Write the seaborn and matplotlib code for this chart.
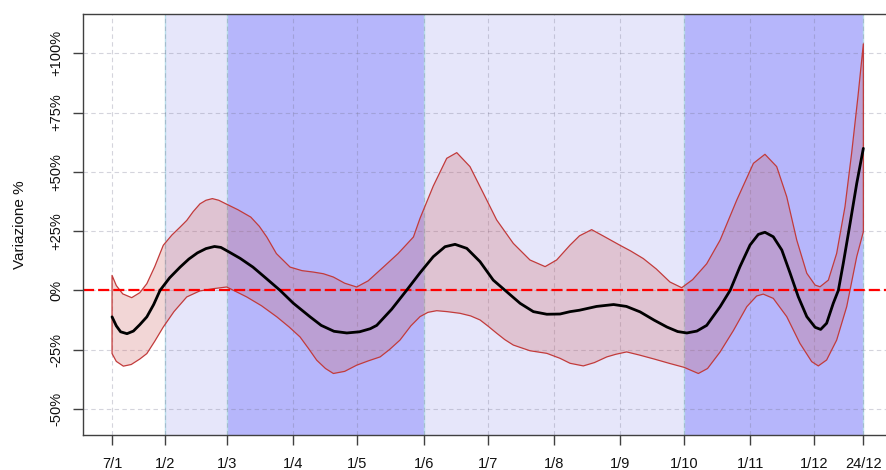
import matplotlib
matplotlib.use("Agg")
import matplotlib.pyplot as plt
import seaborn as sns
import pandas as pd

# Day-of-year axis (leap year)
tick_days = [7, 32, 61, 92, 122, 153, 183, 214, 245, 275, 306, 336, 359]
tick_labels = ["7/1", "1/2", "1/3", "1/4", "1/5", "1/6", "1/7", "1/8", "1/9",
               "1/10", "1/11", "1/12", "24/12"]

y_ticks = [-50, -25, 0, 25, 50, 75, 100]
y_tick_labels = ["-50%", "-25%", "0%", "+25%", "+50%", "+75%", "+100%"]

# Shaded periods: (start day, end day, kind)
period_start = [32, 61, 153, 275]
period_end = [61, 153, 275, 359]
period_kind = ["light", "dark", "light", "dark"]

# Smoothed estimate (%)
mean_days = [7, 9, 11, 14, 17, 20, 23.3, 26.5, 29.5, 34, 38.9, 43, 47, 51, 55, 58, 61,
             67, 73, 79, 85.7, 92, 99.8, 105, 111, 117, 123, 128, 131, 138, 145, 151.3,
             157.5, 163, 167.7, 173.2, 179.4, 185.6, 191.9, 198.2, 204.4, 210.7, 216.9,
             221.6, 226, 234, 242, 248, 254.4, 261, 267, 272, 276.3, 281, 285.6, 291.9,
             296.6, 301.2, 305.9, 309.8, 312.9, 316.8, 320.8, 324.7, 328.5, 332.5,
             336.4, 339, 341.8, 344.9, 347.3, 349.6, 352.8, 355.9, 359]
mean_vals = [-11.2, -15, -17.5, -18.3, -17.2, -14.5, -11.2, -6, 0, 5.3, 9.8, 13.2, 15.8,
             17.6, 18.5, 18.1, 16.6, 13.5, 9.8, 5.2, 0, -5.5, -11.2, -14.8, -17.3, -18,
             -17.5, -16.2, -14.8, -8, 0, 7.4, 14.2, 18.4, 19.4, 17.7, 12.1, 4.3, -0.6,
             -5.5, -9, -10.1, -10, -9, -8.4, -6.8, -6.0, -6.8, -9.1, -12.6, -15.5, -17.4,
             -18, -17.2, -14.8, -6.9, 0, 10, 19.1, 23.6, 24.5, 22.6, 17, 7.2, -2.7,
             -11.1, -15.6, -16.5, -13.9, -5.5, 0, 11.4, 28.3, 45.1, 59.9]

# Upper bound of the interval (%)
upper_days = [7, 9, 12, 16.2, 20, 23.3, 27, 31, 35, 38.9, 42, 45, 48.2, 51, 54, 57, 61,
              66, 72, 76, 79.5, 84, 90.4, 96, 101.3, 106, 110.7, 116, 121.6, 127, 134.1,
              141, 148.2, 151.3, 157.5, 163.8, 168.5, 174.7, 181, 187.2, 195, 202.8,
              209.9, 215.3, 221.6, 226, 231.7, 237, 245, 250, 255.9, 262, 268.4, 273.9,
              279, 285.6, 291.9, 299.7, 307.5, 312.9, 318.4, 323.1, 327.8, 332.5, 336.4,
              338.7, 342.6, 346.5, 350.4, 353.5, 356.5, 359]
upper_vals = [6.3, 2, -1.5, -3.1, -1, 2.8, 10, 19, 23.3, 26.7, 29.5, 33.2, 36.5, 38, 38.7,
              38, 36.2, 34, 30.9, 27, 22.5, 15.5, 9.8, 8.3, 7.7, 7, 5.6, 3, 1.4, 4, 9.8,
              15.5, 22.5, 30.4, 44, 55.7, 58.1, 52.2, 40.9, 29.7, 19.8, 12.8, 10, 12.8,
              19.1, 23, 25.6, 23, 19, 16.6, 13.4, 9, 3.5, 1.1, 4.5, 11.2, 21.2, 38.1,
              53.6, 57.4, 52.2, 39.5, 21.2, 7.2, 2.2, 1.5, 4.3, 15.6, 35.3, 57.8, 82, 104]

# Lower bound of the interval (%)
lower_days = [7, 9, 12.3, 16, 20, 23.3, 27, 31, 36, 42, 48, 54.5, 60.7, 65, 70.1, 77,
              84.2, 90, 95.1, 99, 102.9, 107, 110.7, 116, 121.6, 127, 132.6, 137, 141.9,
              147, 151.3, 155, 159.1, 164, 170, 175, 179.4, 183, 187.2, 191, 195, 202.8,
              210.7, 216.9, 221.6, 227.8, 233, 238.8, 243, 248.1, 254, 261, 268.4, 275,
              281.7, 286, 291.9, 298.1, 304.4, 309, 312.1, 316.8, 323.1, 329.3, 334.8,
              337.9, 341.8, 346.5, 351.2, 355.9, 359]
lower_vals = [-26.7, -30, -32, -31.3, -29, -26.7, -21.5, -15.5, -9, -2.8, -0.3, 0.7, 1.4,
              -0.5, -2.8, -6.5, -11.2, -15.5, -19.7, -24.5, -29.5, -33, -35.1, -34.2,
              -31.6, -29.8, -28.1, -25, -21, -15, -11.1, -9.3, -8.6, -9, -9.7, -10.8,
              -12.5, -15, -18.1, -20.8, -23.1, -25.5, -26.6, -28.7, -30.8, -31.9, -30.5,
              -28.1, -27, -26, -27.3, -29, -30.9, -32.5, -35.1, -33, -26, -17, -6.9,
              -2.4, -1.6, -3.4, -11.1, -22.4, -30.1, -31.9, -29.4, -21, -6.9, 14.2, 24.7]

sns.set_style("white")
plt.rcParams["font.family"] = ["Liberation Sans", "DejaVu Sans"]

fig = plt.figure(figsize=(8.86, 4.70), dpi=100)
ax = fig.add_axes([0.0937, 0.0745, 0.9147, 0.8957])

# Period shading
shade = {"light": "#E6E6FA", "dark": "#B6B6FB"}
for s, e, k in zip(period_start, period_end, period_kind):
    ax.axvspan(s, e, facecolor=shade[k], edgecolor="none", zorder=0.2)
for d in sorted(set(period_start + period_end)):
    ax.axvline(d, color="#B8DCEA", lw=1.0, zorder=0.3)

# Dashed grid at tick positions
grid_kw = dict(color=(0.45, 0.45, 0.55), alpha=0.3, lw=0.8, dashes=(4, 3), zorder=0.5)
for d in tick_days:
    ax.axvline(d, **grid_kw)
for v in y_ticks:
    ax.axhline(v, **grid_kw)

# Interval band
band = pd.DataFrame({"day": upper_days + lower_days[::-1],
                     "val": upper_vals + lower_vals[::-1]})
ax.fill(band["day"], band["val"], facecolor=(205 / 255, 92 / 255, 92 / 255, 0.25),
        edgecolor="#C23B3B", lw=0.9, joinstyle="round", zorder=1)

# Reference line at 0%
ax.axhline(0, color="#FF0000", lw=1.6, dashes=(5, 1.8), zorder=2)

# Smoothed estimate
df_mean = pd.DataFrame({"day": mean_days, "val": mean_vals})
sns.lineplot(data=df_mean, x="day", y="val", color="black", lw=2.0, ax=ax, zorder=3,
             solid_joinstyle="round", solid_capstyle="round")

ax.set_xlim(-6.6, 373.1)
ax.set_ylim(-61.05, 116.6)

ax.set_xticks(tick_days)
ax.set_xticklabels(tick_labels)
ax.set_yticks(y_ticks)
ax.set_yticklabels(y_tick_labels, rotation=90, va="center")

ax.tick_params(axis="both", direction="out", length=7.5, width=1.0, color="#404040",
               labelsize=10.5, labelcolor="#111111", left=True, bottom=True)
ax.tick_params(axis="x", pad=8.5)
ax.tick_params(axis="y", pad=7)

for sp in ax.spines.values():
    sp.set_color("#404040")
    sp.set_linewidth(1.0)
    sp.set_visible(True)

ax.set_xlabel("")
ax.set_ylabel("Variazione %", fontsize=11, color="#111111")
ax.yaxis.set_label_coords(-0.069, 0.5)

fig.savefig("out.png", dpi=100)
